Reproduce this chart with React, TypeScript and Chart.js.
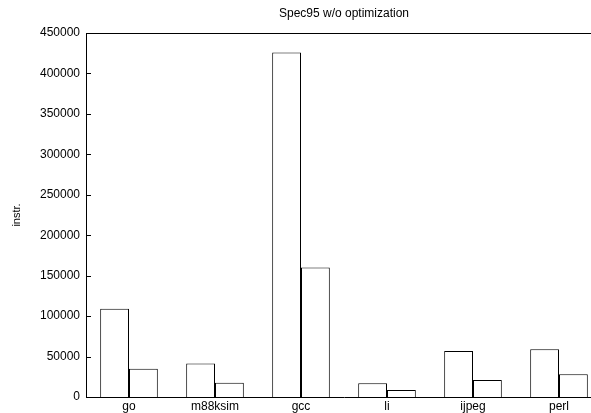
import React, { useEffect, useRef } from "react";
import { Chart, registerables } from "chart.js";

Chart.register(...registerables);

const categories = ["go", "m88ksim", "gcc", "li", "ijpeg", "perl"];
const seriesA = [109000, 41500, 426000, 17000, 57000, 59000];
const seriesB = [35000, 17500, 160000, 8500, 21000, 28000];
const yTicks = [0, 50000, 100000, 150000, 200000, 250000, 300000, 350000, 400000, 450000];

const FONT = "'Liberation Sans', Arial, Helvetica, sans-serif";

const framePlugin = {
  id: "frame",
  afterDraw(chart: any) {
    const { ctx, chartArea } = chart;
    const y = chart.scales.y;
    ctx.save();
    ctx.strokeStyle = "#000";
    ctx.lineWidth = 1;
    ctx.beginPath();
    ctx.moveTo(chartArea.left, chartArea.top + 0.5);
    ctx.lineTo(chartArea.right, chartArea.top + 0.5);
    ctx.stroke();
    ctx.beginPath();
    for (const v of yTicks) {
      const py = Math.round(y.getPixelForValue(v)) + 0.5;
      ctx.moveTo(chartArea.left, py);
      ctx.lineTo(chartArea.left + 5, py);
    }
    ctx.stroke();
    ctx.restore();
  },
};

export default function App() {
  const ref = useRef<HTMLCanvasElement>(null);
  useEffect(() => {
    if (!ref.current) return;
    const chart = new Chart(ref.current, {
      type: "bar",
      data: {
        labels: categories,
        datasets: [
          { data: seriesA, backgroundColor: "#fff", borderColor: "#000", borderWidth: 1, barPercentage: 1, categoryPercentage: 0.67 },
          { data: seriesB, backgroundColor: "#fff", borderColor: "#000", borderWidth: 1, barPercentage: 1, categoryPercentage: 0.67 },
        ],
      },
      options: {
        responsive: false,
        animation: false,
        devicePixelRatio: 1,
        layout: { padding: { left: 0, right: 18, top: 0, bottom: 0 } },
        plugins: {
          legend: { display: false },
          tooltip: { enabled: false },
          title: {
            display: true,
            text: "Spec95 w/o optimization",
            fullSize: false,
            color: "#000",
            font: { family: FONT, size: 12, weight: "normal" },
            padding: { top: 6, bottom: 12.6 },
          },
        },
        scales: {
          x: {
            grid: { display: false, drawTicks: false },
            border: { display: true, color: "#000", width: 1 },
            ticks: { color: "#000", font: { family: FONT, size: 12 }, padding: 2, autoSkip: false, maxRotation: 0 },
            afterFit: (s: any) => { s.height = 16; },
          },
          y: {
            min: 0,
            max: 450000,
            grid: { display: false, drawTicks: false },
            border: { display: true, color: "#000", width: 1 },
            ticks: {
              color: "#000",
              font: { family: FONT, size: 12 },
              padding: 6,
              stepSize: 50000,
              callback: (v: any) => String(v),
            },
            afterBuildTicks: (s: any) => { s.ticks = yTicks.map((v) => ({ value: v })); },
            title: {
              display: true,
              text: "instr.",
              color: "#000",
              font: { family: FONT, size: 11 },
              padding: { top: 10, bottom: 0 },
            },
            afterFit: (s: any) => { s.width = 86; },
          },
        },
      },
      plugins: [framePlugin],
    });
    return () => chart.destroy();
  }, []);
  return (
    <div style={{ position: "fixed", left: 0, top: 0, width: 591, height: 413, overflow: "hidden", background: "#fff" }}>
      <canvas ref={ref} width={620} height={413} style={{ width: 620, height: 413, display: "block" }} />
    </div>
  );
}
